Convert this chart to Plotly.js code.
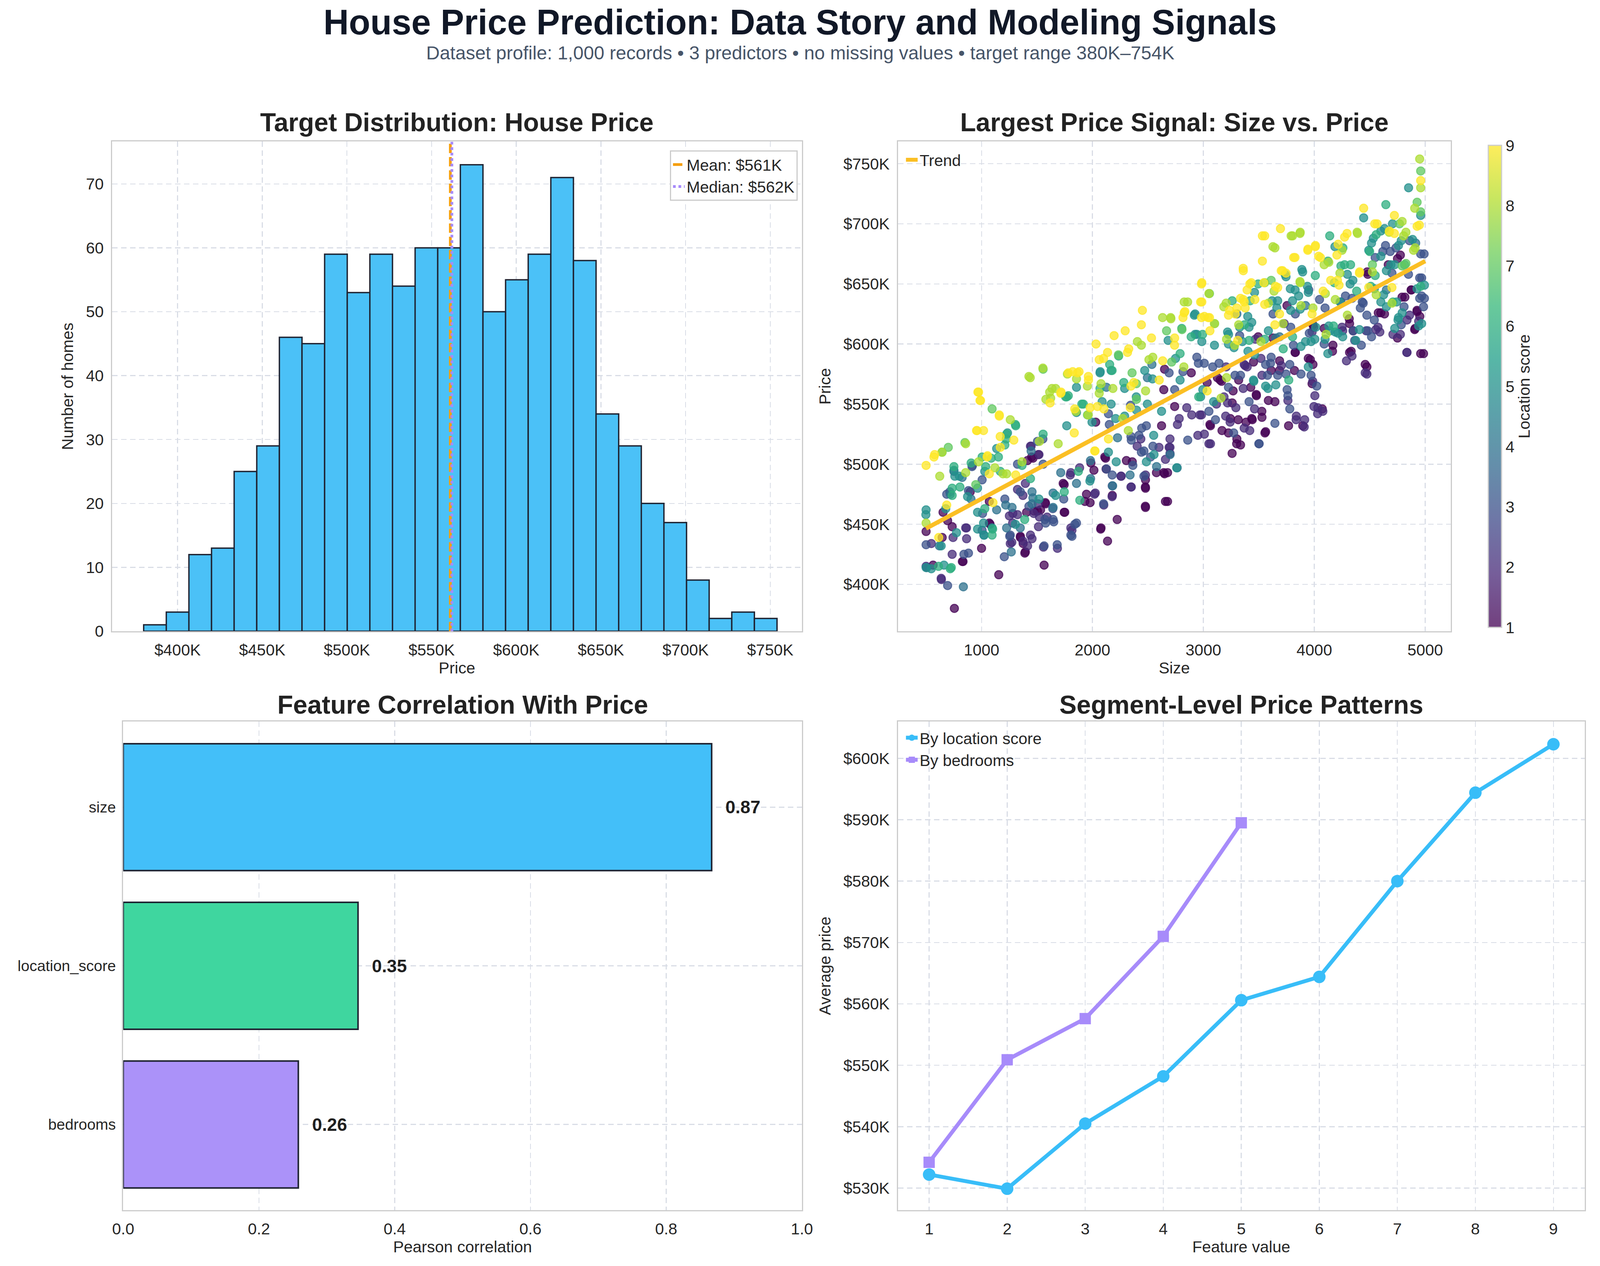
<!DOCTYPE html>
<html>
<head>
<meta charset="utf-8">
<script src="https://cdn.plot.ly/plotly-3.0.1.min.js"></script>
<style>
  html, body { margin: 0; padding: 0; background: #ffffff; overflow: hidden; }
</style>
</head>
<body>
<div id="chart"></div>
<script>
// ---- Histogram of house prices (K$) ----
const histBinStart = 380;
const histBinEnd = 754;
const histCounts = [1, 3, 12, 13, 25, 29, 46, 45, 59, 53, 59, 54, 60, 60, 73, 50, 55, 59, 71, 58, 34, 29, 20, 17, 8, 2, 3, 2];
const meanPrice = 561.1;
const medianPrice = 562.0;
const priceTicks = [400, 450, 500, 550, 600, 650, 700, 750];
const priceTickText = ['$400K', '$450K', '$500K', '$550K', '$600K', '$650K', '$700K', '$750K'];

// ---- Size vs price, points grouped by location score: [size, price K$] ----
const loc1 = [[500,444],[755,380],[827,419],[1000,430],[1077,450],[1155,408],[1350,439],[1395,427],[1473,461],[1532,462],[1464,505],[1564,416],[1577,467],[1745,460],[1736,484],[1932,469],[1986,501],[2077,447],[2123,496],[2136,436],[2223,454],[2359,502],[2477,481],[2477,465],[2577,493],[2623,532],[2677,469],[2677,493],[3064,532],[3164,569],[3259,509],[3300,517],[3314,537],[3441,537],[3477,558],[3527,544],[3555,526],[3627,605],[3686,578],[3768,532],[3827,593],[3964,587],[3995,614],[4168,599],[4318,617],[4318,593],[4459,583],[4477,660],[4577,626],[4750,671],[4791,639],[4873,645],[4905,612],[4927,627],[4959,592],
  [645,439],[563,416],[833,419],[2074,446],[1750,460],[1946,475],[1979,468],[2179,474],[2478,464],[2478,480],[2478,487],[2658,469],[2650,492],[2643,493],[2306,503],[2111,506],[2013,495],[1745,483],[1390,426],[1375,434],[1350,440],[1406,460],[1504,461],[1575,468],[1070,469],[1070,451],[735,448],[694,453],[653,460],[898,477],[1414,503],[1452,506],[1512,508],[2650,579],[2643,562],[2741,548],[2029,535],[2118,505],
  [4776,674],[4667,666],[4482,658],[4876,645],[4926,628],[4951,623],[4909,613],[4750,605],[4817,639],[4985,592],[4600,626],[4633,625],[4332,594],[4474,581],[4350,611],[4315,621],[4164,594],[4089,613],[3988,616],[3829,593],[3494,606],[3452,585],[3687,586],[3611,578],[3427,564],[3478,557],[3586,553],[3645,552],[3528,539],[3561,527],[3896,532],[4072,546],[3980,567],[3988,583],[3946,588],[3821,578],[3754,632],[3318,570],[3268,561],[3260,551],[3243,538],[3226,526],[3302,521],[3335,516],[3385,535],[3436,538],[3168,528],[3059,533],[3034,568],[3126,572],[3151,570],[2891,576]];
const loc2 = [[500,415],[636,405],[864,447],[1282,459],[1273,435],[1373,436],[1441,441],[1395,484],[1441,515],[1518,508],[1591,456],[1805,447],[1805,493],[2018,475],[2177,473],[2259,490],[2350,481],[2691,514],[2782,538],[2850,547],[2895,541],[2968,541],[3009,525],[3064,517],[3118,550],[3186,556],[3205,581],[3241,535],[3359,563],[3395,581],[3418,528],[3836,537],[3909,531],[3986,569],[4032,547],[4077,544],[4250,614],[4459,576],[4468,611],[4555,612],[4709,608],[4836,620],[4836,593],[4941,619],
  [547,434],[638,404],[735,425],[1558,431],[1684,430],[1815,445],[2025,476],[2102,466],[2257,490],[2347,481],[2478,491],[2699,509],[2699,514],[2600,514],[2658,504],[1884,497],[1800,491],[1513,448],[1455,438],[1415,432],[1259,434],[1280,451],[1251,457],[1324,458],[1471,459],[1522,456],[1510,467],[1373,474],[1324,479],[857,447],[865,438],[743,439],[1447,515],[2766,533],[2699,521],[2436,521],[2403,515],
  [4859,624],[4776,608],[4834,593],[4591,610],[4574,614],[4340,590],[4290,586],[4474,575],[4256,611],[3980,610],[3729,617],[3469,604],[3377,582],[3519,588],[3528,574],[3461,546],[3762,553],[3838,540],[3913,537],[3997,548],[4030,542],[4005,557],[3703,582],[3368,583],[3218,551],[3293,547],[3201,540],[3368,530],[3050,517],[2983,541],[2950,524]];
const loc3 = [[500,433],[714,477],[918,499],[882,426],[1009,459],[1205,423],[1259,441],[1427,465],[1350,477],[1555,500],[1564,432],[1645,454],[1682,433],[1805,441],[1841,450],[2100,467],[2350,520],[2464,490],[2486,532],[2859,520],[2955,584],[3141,584],[3273,526],[3500,517],[3605,584],[3755,562],[3950,645],[4350,611],[4364,603],[4432,635],[4618,677],[4736,680],[4859,686],[4959,675],[4950,655],[4950,638],
  [506,414],[694,399],[841,425],[1815,440],[1856,451],[2178,482],[2178,491],[2441,510],[2464,511],[2523,506],[2364,499],[2126,496],[1741,471],[1651,452],[1578,451],[1254,440],[1571,454],[1642,463],[1210,471],[1005,445],[686,475],[751,494],[914,498],[882,478],[1005,487],[1324,500],[1504,519],[1553,521],[2152,533],[2144,542],[2691,576],[2741,562],[2545,515],[2343,549],[2347,523],[2419,524],[2444,530],
  [4990,675],[4642,682],[4684,677],[4549,672],[4700,659],[4849,658],[4968,655],[4968,640],[4993,638],[4985,631],[4809,631],[4784,616],[4441,634],[4415,630],[4474,624],[4541,620],[4482,611],[4516,606],[4340,638],[4281,640],[4240,635],[4097,630],[4047,637],[3628,625],[3829,625],[3787,614],[3955,609],[3812,599],[4424,599],[4089,600],[3327,607],[3561,583],[3611,589],[3578,574],[3670,574],[3412,552],[3503,517],[3645,534],[3762,557],[3779,546],[4022,565],[3971,574],[3880,575],[3779,583],[3745,575],[3285,574],[3335,574],[3226,564],[3050,544],[3109,537],[3084,581],[3008,584],[2941,589],[2816,577]];
const loc4 = [[836,398],[905,471],[1268,427],[1645,464],[1714,493],[2182,482],[2700,508],[4914,684],
  [620,432],[2339,491],[2578,498],[2764,497],[1982,503],[1983,488],[1856,484],[1645,476],[1463,472],[1455,477],[1455,467],[1226,447],[1349,447],[1275,464],[1218,466],[1136,462],[1021,441],[718,475],[825,489],[1447,511],[2226,522],[2126,564],[2495,572],[2536,583],
  [3921,632],[3687,606],[3653,605],[4650,645],[3302,625]];
const loc5 = [[500,462],[500,414],[636,432],[759,490],[1018,451],[1023,441],[1305,450],[1518,471],[1668,474],[1768,532],[1977,486],[2068,576],[2168,578],[2168,550],[2214,502],[2395,556],[2486,502],[2541,571],[2555,508],[2623,544],[2759,497],[2918,624],[2941,608],[2986,602],[2995,562],[3100,599],[3227,608],[3327,614],[3455,569],[3582,563],[3745,656],[3873,629],[3895,660],[4141,611],[4186,681],[4232,635],[4445,705],[4491,678],[4532,688],[4600,694],[4600,635],[4691,666],[4755,620],[4850,730],[4959,707],[4941,615],
  [498,458],[547,413],[661,416],[1095,447],[964,446],[774,443],[677,463],[751,495],[800,490],[874,473],[964,480],[1029,494],[964,460],[1136,513],[1234,526],[1856,564],[1856,543],[1996,535],[2070,577],[2087,552],[2144,510],[2209,538],[2290,563],[2471,578],[2495,550],[2397,545],[2290,540],[2552,524],
  [4705,700],[4633,696],[4516,684],[4759,682],[4784,686],[4886,687],[4600,673],[4724,666],[4650,661],[4993,649],[4926,646],[4968,617],[4792,626],[4759,622],[4725,613],[4650,631],[4625,641],[4742,635],[4541,646],[4323,650],[4298,658],[4348,653],[3888,662],[3737,658],[3938,648],[3946,643],[3859,640],[3827,645],[3784,646],[3461,643],[3400,623],[3436,618],[3412,614],[3620,636],[3670,636],[3662,630],[3787,628],[3804,636],[4407,612],[4374,603],[4214,609],[4256,606],[4122,592],[4097,604],[4131,615],[4189,610],[4013,614],[4005,604],[3971,602],[3921,602],[3880,598],[3586,611],[3352,602],[3276,597],[3226,600],[3218,610],[3402,594],[3461,591],[3653,566],[3561,565],[3452,570],[3946,581],[2925,625],[2925,608],[2790,570],[2749,588],[2682,603],[3092,552],[2975,556]];
const loc6 = [[727,414],[805,481],[1100,446],[1223,521],[1305,533],[1441,488],[1555,525],[1768,556],[1873,494],[1886,470],[1918,550],[2068,563],[2155,583],[2236,590],[2282,568],[2805,613],[4009,657],[4123,669],[4273,666],[4327,666],[4509,648],[4645,716],[4709,635],[4814,666],[4959,648],
  [612,415],[718,413],[1389,454],[1746,477],[735,474],[735,480],[751,498],[906,501],[1029,463],[1095,441],[1005,506],[1037,498],[1087,505],[1152,506],[1210,516],[1226,525],[1308,532],[1169,494],[1365,499],[1758,556],[1782,557],[1904,550],[2177,578],
  [4558,691],[4139,690],[4258,680],[4499,677],[4549,657],[4382,644],[4181,651],[4240,665],[3494,650],[3260,636],[3422,636],[3370,616],[3804,606],[3720,596],[3553,604],[3412,603],[3770,570],[4173,615],[2958,556],[2890,606],[2993,608],[2790,592]];
const loc7 = [[645,510],[700,514],[850,518],[1095,546],[1555,579],[1955,541],[2668,611],[2714,585],[3055,642],[4768,700],[4927,718],[4959,744],[4959,710],
  [948,483],[2234,591],[2357,576],[2396,567],[2397,554],
  [4792,665],[4524,666],[4826,667],[3611,653],[3553,651],[3101,617],[2807,612]];
const loc8 = [[500,451],[623,490],[973,502],[1259,537],[1427,573],[1614,560],[1623,555],[1668,563],[1691,517],[1850,544],[2077,567],[2405,602],[2441,599],[2509,587],[2632,622],[2705,622],[2827,635],[3100,617],[3205,634],[3282,599],[3627,681],[3718,617],[3791,690],[3873,693],[3873,651],[4100,642],[4250,678],[4386,693],[4805,690],[4895,678],[4905,713],[4950,754],[4959,730],
  [643,510],[857,493],[857,517],[1226,492],[1193,492],[1120,497],[1365,502],[1522,519],[1580,554],[1439,572],[1553,580],[1635,563],[1774,575],[1856,571],[1954,565],[1962,541],[2061,559],[2184,563],[2273,538],[2323,528],[2544,589],[2479,561],
  [4792,702],[4675,693],[4826,693],[4390,692],[3871,692],[3804,690],[3645,680],[4909,680],[4524,660],[4131,668],[4089,666],[4231,659],[3871,652],[3637,644],[3184,631],[3318,616],[3586,634],[3880,632],[3988,630],[4189,637],[4558,641],[4700,634],[4106,608],[4298,624],[3519,602],[3209,604],[3159,555],[3209,572],[2824,581],[2858,635],[3050,642],[2707,621]];
const loc9 = [[500,499],[577,508],[614,439],[973,560],[986,553],[955,528],[1018,528],[1050,506],[1160,541],[1168,523],[1291,520],[1714,559],[1782,576],[1836,526],[1864,576],[1964,570],[2023,511],[2032,600],[2045,548],[2100,588],[2136,593],[2195,607],[2295,611],[2327,596],[2341,547],[2373,568],[2450,628],[2441,616],[2532,605],[2741,605],[2827,626],[2986,651],[2986,635],[3009,623],[3055,622],[3286,625],[3359,663],[3368,635],[3432,651],[3532,690],[3532,669],[3545,651],[3650,648],[3695,696],[3714,661],[3814,672],[3941,678],[4009,681],[4055,672],[4209,653],[4295,692],[4409,660],[4445,713],[4545,700],[4677,694],[4700,647],[4927,698],[4959,736],
  [686,466],[571,506],[1103,468],[1054,507],[1070,492],[1169,514],[1160,540],[959,528],[967,560],[991,553],[1308,491],[1618,551],[1717,560],[1822,577],[1879,577],[1963,573],[1840,546],[1979,547],[2061,587],[2103,546],[2144,521],[2020,511],[2347,565],[2316,593],[2633,586],[2602,570],
  [4722,707],[4566,700],[4722,692],[4947,699],[4273,689],[3553,690],[3360,661],[3826,672],[3943,679],[4010,682],[4039,673],[4215,683],[4204,674],[4407,659],[4491,647],[4223,649],[4148,653],[4080,644],[3745,659],[3702,661],[3670,647],[3419,650],[3394,645],[3335,638],[3360,637],[3235,628],[3226,624],[3302,630],[3377,630],[3464,637],[3553,633],[3687,625],[3980,625],[3645,616],[3310,603],[3034,561],[2983,622],[3042,622],[2983,650],[2975,635],[2833,627],[2816,622],[3059,611],[2740,599]];
const trendSize = [500, 5000];
const trendPrice = [446.5, 669];
const sizeTicks = [1000, 2000, 3000, 4000, 5000];

// ---- Correlations ----
const corrFeatures = ['bedrooms', 'location_score', 'size'];
const corrValues = [0.258, 0.346, 0.867];
const corrColors = ['#ab92f9', '#3fd69f', '#43bff9'];

// ---- Segment averages (K$) ----
const locationScores = [1, 2, 3, 4, 5, 6, 7, 8, 9];
const priceByLocation = [532.2, 529.9, 540.5, 548.2, 560.6, 564.4, 580.0, 594.4, 602.3];
const bedroomCounts = [1, 2, 3, 4, 5];
const priceByBedrooms = [534.2, 550.9, 557.6, 571.0, 589.5];
const avgTicks = [530, 540, 550, 560, 570, 580, 590, 600];
const avgTickText = ['$530K', '$540K', '$550K', '$560K', '$570K', '$580K', '$590K', '$600K'];

// viridis with matplotlib-like transparency
const viridisA = [
  [0.0, 'rgba(68,1,84,0.75)'], [0.111, 'rgba(72,40,120,0.75)'], [0.222, 'rgba(62,73,137,0.75)'],
  [0.333, 'rgba(49,104,142,0.75)'], [0.444, 'rgba(38,130,142,0.75)'], [0.556, 'rgba(31,158,137,0.75)'],
  [0.667, 'rgba(53,183,121,0.75)'], [0.778, 'rgba(110,206,88,0.75)'], [0.889, 'rgba(181,222,43,0.75)'],
  [1.0, 'rgba(253,231,37,0.75)']
];

const FONT = 'Liberation Sans, Arial, sans-serif';
const TXT = '#262626';

// the window can be narrower than the 4469 px reference; keep proportions
const W = Math.min(window.innerWidth || 4469, 4469);
const H = window.innerHeight || 3241;
const kx = W / 4469;

// flatten scatter groups
const sx = [], sy = [], sc = [];
[loc1, loc2, loc3, loc4, loc5, loc6, loc7, loc8, loc9].forEach(function (pts, i) {
  pts.forEach(function (p) { sx.push(p[0]); sy.push(p[1]); sc.push(i + 1); });
});

const binWidth = (histBinEnd - histBinStart) / histCounts.length;
const binCenters = histCounts.map((c, i) => histBinStart + binWidth * (i + 0.5));
const histTop = Math.max(...histCounts) * 1.05;

const traces = [
  {
    type: 'bar', x: binCenters, y: histCounts, width: binWidth,
    marker: { color: '#4bc1f7', line: { color: '#1f2433', width: 3.5 } },
    xaxis: 'x', yaxis: 'y', showlegend: false, hoverinfo: 'skip'
  },
  {
    type: 'scatter', mode: 'lines', x: [meanPrice, meanPrice], y: [0, histTop],
    name: 'Mean: $' + Math.round(meanPrice) + 'K',
    line: { color: '#f59e0b', width: 7, dash: '24px,10px' },
    xaxis: 'x', yaxis: 'y', legend: 'legend'
  },
  {
    type: 'scatter', mode: 'lines', x: [medianPrice, medianPrice], y: [0, histTop],
    name: 'Median: $' + Math.round(medianPrice) + 'K',
    line: { color: '#a78bfa', width: 7, dash: '7px,7px' },
    xaxis: 'x', yaxis: 'y', legend: 'legend'
  },
  {
    type: 'scatter', mode: 'markers', x: sx, y: sy, showlegend: false,
    marker: {
      size: 21, color: sc, colorscale: viridisA, cmin: 1, cmax: 9,
      line: { width: 2.5, color: sc, colorscale: viridisA, cmin: 1, cmax: 9 },
      colorbar: {
        x: 0.9277, xanchor: 'left', y: 0.6948, yanchor: 'middle', len: 0.387, lenmode: 'fraction',
        thickness: Math.round(37 * kx), outlinecolor: '#cccccc', outlinewidth: 3,
        tickvals: locationScores, tickfont: { size: 41, color: TXT, family: FONT }, ticks: '', ticklabelpad: 10,
        title: { text: 'Location score', side: 'right', font: { size: 41, color: TXT, family: FONT } }
      }
    },
    xaxis: 'x2', yaxis: 'y2', hoverinfo: 'skip'
  },
  {
    type: 'scatter', mode: 'lines', x: trendSize, y: trendPrice, name: 'Trend',
    line: { color: '#fbbf24', width: 11 }, xaxis: 'x2', yaxis: 'y2', legend: 'legend2'
  },
  {
    type: 'bar', orientation: 'h', y: corrFeatures, x: corrValues, width: 0.8,
    marker: { color: corrColors, line: { color: '#1f2433', width: 4 } },
    xaxis: 'x3', yaxis: 'y3', showlegend: false, hoverinfo: 'skip'
  },
  {
    type: 'scatter', mode: 'lines+markers', x: locationScores, y: priceByLocation, name: 'By location score',
    line: { color: '#38bdf8', width: 10 }, marker: { symbol: 'circle', size: 32, color: '#38bdf8' },
    xaxis: 'x4', yaxis: 'y4', legend: 'legend3'
  },
  {
    type: 'scatter', mode: 'lines+markers', x: bedroomCounts, y: priceByBedrooms, name: 'By bedrooms',
    line: { color: '#a78bfa', width: 10 }, marker: { symbol: 'square', size: 29, color: '#a78bfa' },
    xaxis: 'x4', yaxis: 'y4', legend: 'legend3'
  }
];

function ax(extra) {
  return Object.assign({
    showline: true, mirror: true, linecolor: '#cccccc', linewidth: 3,
    showgrid: true, gridcolor: '#d9dde6', gridwidth: 2.5, griddash: '14px,9px',
    zeroline: false, ticks: '', ticklen: 0, ticklabelstandoff: 10,
    tickfont: { size: 41, color: TXT, family: FONT }
  }, extra);
}
function axTitle(text, standoff) {
  return { text: text, standoff: standoff, font: { size: 41, color: TXT, family: FONT } };
}

const xL = [0.0700, 0.5012], xBL = [0.0770, 0.5012], xR = [0.5612, 0.9067], xBR = [0.5612, 0.9904];
const yT = [0.5014, 0.8883], yB = [0.0441, 0.4301];

const layout = {
  width: W, height: H,
  margin: { l: 0, r: 0, t: 0, b: 0 },
  paper_bgcolor: '#ffffff', plot_bgcolor: '#ffffff',
  font: { family: FONT, color: TXT },
  xaxis: ax({ domain: xL, anchor: 'y', range: [361.3, 768.7], tickvals: priceTicks, ticktext: priceTickText, title: axTitle('Price', 10) }),
  yaxis: ax({ domain: yT, anchor: 'x', range: [0, histTop], dtick: 10, title: axTitle('Number of homes', 20) }),
  xaxis2: ax({ domain: xR, anchor: 'y2', range: [246, 5230], tickvals: sizeTicks, title: axTitle('Size', 10) }),
  yaxis2: ax({ domain: yT, anchor: 'x2', range: [361, 768.6], tickvals: priceTicks, ticktext: priceTickText, title: axTitle('Price', 20) }),
  xaxis3: ax({ domain: xBL, anchor: 'y3', range: [0, 1], dtick: 0.2, tickformat: '.1f', title: axTitle('Pearson correlation', 10) }),
  yaxis3: ax({ domain: yB, anchor: 'x3', type: 'category', range: [-0.54, 2.54], ticklabelstandoff: 8,
    tickfont: { size: 39, color: TXT, family: FONT } }),
  xaxis4: ax({ domain: xBR, anchor: 'y4', range: [0.6, 9.4], dtick: 1, title: axTitle('Feature value', 10) }),
  yaxis4: ax({ domain: yB, anchor: 'x4', range: [526.4, 606.0], tickvals: avgTicks, ticktext: avgTickText, title: axTitle('Average price', 20) }),
  legend: {
    x: 0.4985, xanchor: 'right', y: 0.8812, yanchor: 'top',
    bgcolor: '#ffffff', bordercolor: '#cccccc', borderwidth: 3,
    font: { size: 41, color: TXT, family: FONT }, tracegroupgap: 0
  },
  legend2: {
    x: 0.565, xanchor: 'left', y: 0.884, yanchor: 'top', bgcolor: 'rgba(0,0,0,0)',
    font: { size: 41, color: TXT, family: FONT }
  },
  legend3: {
    x: 0.565, xanchor: 'left', y: 0.4275, yanchor: 'top', bgcolor: 'rgba(0,0,0,0)',
    font: { size: 41, color: TXT, family: FONT }, tracegroupgap: 0
  },
  annotations: [
    { xref: 'paper', yref: 'paper', x: 0.5, y: 0.9825, text: '<b>House Price Prediction: Data Story and Modeling Signals</b>',
      showarrow: false, xanchor: 'center', yanchor: 'middle', font: { size: 90, color: '#111827', family: FONT } },
    { xref: 'paper', yref: 'paper', x: 0.5, y: 0.9582, text: 'Dataset profile: 1,000 records • 3 predictors • no missing values • target range 380K–754K',
      showarrow: false, xanchor: 'center', yanchor: 'middle', font: { size: 48, color: '#475569', family: FONT } },
    { xref: 'paper', yref: 'paper', x: (xL[0] + xL[1]) / 2, y: 0.9034, text: '<b>Target Distribution: House Price</b>',
      showarrow: false, xanchor: 'center', yanchor: 'middle', font: { size: 66, color: '#222222', family: FONT } },
    { xref: 'paper', yref: 'paper', x: (xR[0] + xR[1]) / 2, y: 0.9034, text: '<b>Largest Price Signal: Size vs. Price</b>',
      showarrow: false, xanchor: 'center', yanchor: 'middle', font: { size: 66, color: '#222222', family: FONT } },
    { xref: 'paper', yref: 'paper', x: (xBL[0] + xBL[1]) / 2, y: 0.4434, text: '<b>Feature Correlation With Price</b>',
      showarrow: false, xanchor: 'center', yanchor: 'middle', font: { size: 66, color: '#222222', family: FONT } },
    { xref: 'paper', yref: 'paper', x: (xBR[0] + xBR[1]) / 2, y: 0.4434, text: '<b>Segment-Level Price Patterns</b>',
      showarrow: false, xanchor: 'center', yanchor: 'middle', font: { size: 66, color: '#222222', family: FONT } }
  ].concat(corrFeatures.map(function (f, i) {
    return { xref: 'x3', yref: 'y3', x: corrValues[i], y: f, text: '<b>' + corrValues[i].toFixed(2) + '</b>',
      showarrow: false, xanchor: 'left', yanchor: 'middle', xshift: Math.round(36 * kx), font: { size: 46, color: '#1f1f1f', family: FONT } };
  }))
};

Plotly.newPlot('chart', traces, layout, { staticPlot: true, displayModeBar: false });
</script>
</body>
</html>
